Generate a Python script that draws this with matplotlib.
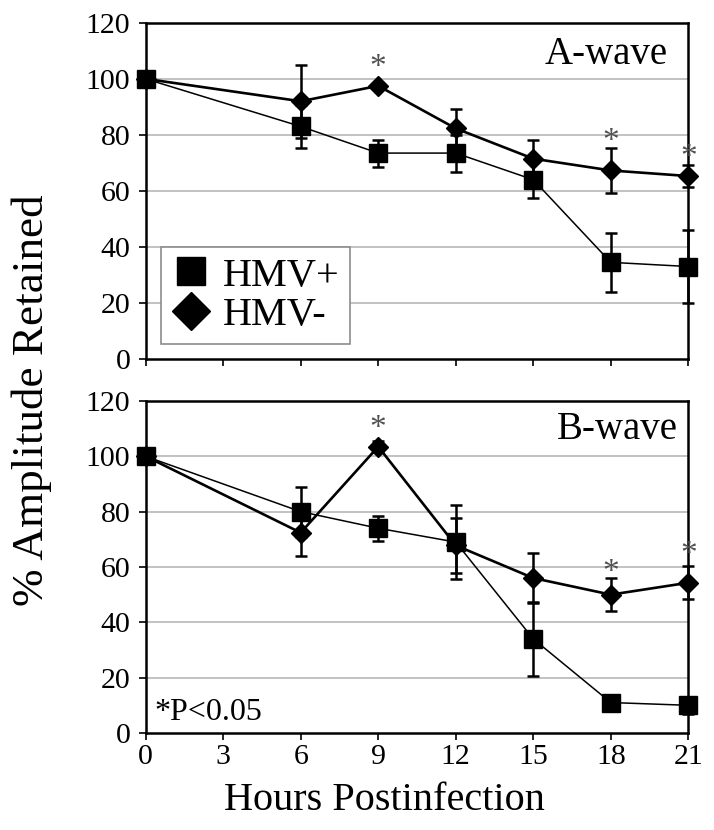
import numpy as np
import matplotlib.pyplot as plt
from matplotlib.lines import Line2D

plt.rcParams['font.family'] = ['Liberation Serif', 'DejaVu Serif']

# -----------------------------
#  Data
# -----------------------------
hours = [0, 6, 9, 12, 15, 18, 21]

# A-wave
a_pos     = [100, 83, 73.5, 73.5, 64, 34.5, 33]
a_pos_err = [0, 7.7, 4.8, 6.6, 6.6, 10.5, 13]
a_neg     = [100, 92, 97.5, 82.3, 71.5, 67.3, 65.3]
a_neg_err = [0, 13, 1, 7, 6.5, 8, 3.8]

# B-wave
b_pos     = [100, 80, 74, 69, 34, 11, 10]
b_pos_err = [0, 9, 4.5, 13.5, 13.5, 2.5, 3]
b_neg     = [100, 72.4, 103.5, 67.8, 56, 50, 54.3]
b_neg_err = [0, 8.5, 2, 10, 9, 6, 6]

# asterisks (x, y) above significant points
a_stars = [(9, 104), (18, 77.5), (21, 72)]
b_stars = [(9, 110), (18, 58), (21, 64.5)]

xticks = [0, 3, 6, 9, 12, 15, 18, 21]
yticks = [0, 20, 40, 60, 80, 100, 120]

# -----------------------------
#  Figure
# -----------------------------
fig = plt.figure(figsize=(7.14, 8.3), dpi=100)
ax_a = fig.add_axes([0.204, 0.5675, 0.760, 0.405])
ax_b = fig.add_axes([0.204, 0.1169, 0.760, 0.400])


def draw_panel(ax, pos, pos_err, neg, neg_err, stars, label, lx, ly):
    for y in yticks[1:-1]:
        ax.axhline(y, color='#b8b8b8', lw=1.2, zorder=0)
    e1 = ax.errorbar(hours, pos, yerr=pos_err, color='black', lw=1.1,
                     marker='s', ms=12.5, elinewidth=1.8, capsize=4.5,
                     capthick=1.8, zorder=3)
    e2 = ax.errorbar(hours, neg, yerr=neg_err, color='black', lw=1.9,
                     marker='D', ms=10.5, elinewidth=1.8, capsize=4.5,
                     capthick=1.8, zorder=4)
    for cont in (e1, e2):
        for art in cont.get_children():
            art.set_clip_on(False)
    for sx, sy in stars:
        ax.text(sx, sy, '*', ha='center', va='center', fontsize=24,
                color='#505050')
    ax.text(lx, ly, label, transform=ax.transAxes, ha='right',
            va='center', fontsize=28)
    ax.set_xlim(0, 21)
    ax.set_ylim(0, 120)
    ax.set_xticks(xticks)
    ax.set_yticks(yticks)
    ax.tick_params(direction='out', length=5, width=1.2, labelsize=21.5)
    ax.tick_params(axis='y', pad=6)
    ax.tick_params(axis='x', pad=3)
    for s in ax.spines.values():
        s.set_linewidth(1.8)
        s.set_zorder(2)


draw_panel(ax_a, a_pos, a_pos_err, a_neg, a_neg_err, a_stars, 'A-wave',
           0.963, 0.905)
draw_panel(ax_b, b_pos, b_pos_err, b_neg, b_neg_err, b_stars, 'B-wave',
           0.981, 0.915)
ax_a.tick_params(labelbottom=False)

handles = [
    Line2D([], [], color='black', marker='s', ms=20, ls='none'),
    Line2D([], [], color='black', marker='D', ms=19, ls='none'),
]
leg = ax_a.legend(handles, ['HMV+', 'HMV-'], loc='lower left',
                  bbox_to_anchor=(0.028, 0.045), borderaxespad=0,
                  fontsize=29, frameon=True, fancybox=False,
                  edgecolor='#8c8c8c', handletextpad=0.3, handlelength=1.0,
                  borderpad=0.25, labelspacing=0.05, framealpha=1)
leg.get_frame().set_linewidth(1.2)

ax_b.text(0.017, 0.063, '*P<0.05', transform=ax_b.transAxes, ha='left',
          va='center', fontsize=23)

fig.text(0.044, 0.518, '% Amplitude Retained', rotation=90, ha='center',
         va='center', fontsize=32.5)
fig.text(0.539, 0.036, 'Hours Postinfection', ha='center', va='center',
         fontsize=29)

fig.savefig('out.png', dpi=100)
